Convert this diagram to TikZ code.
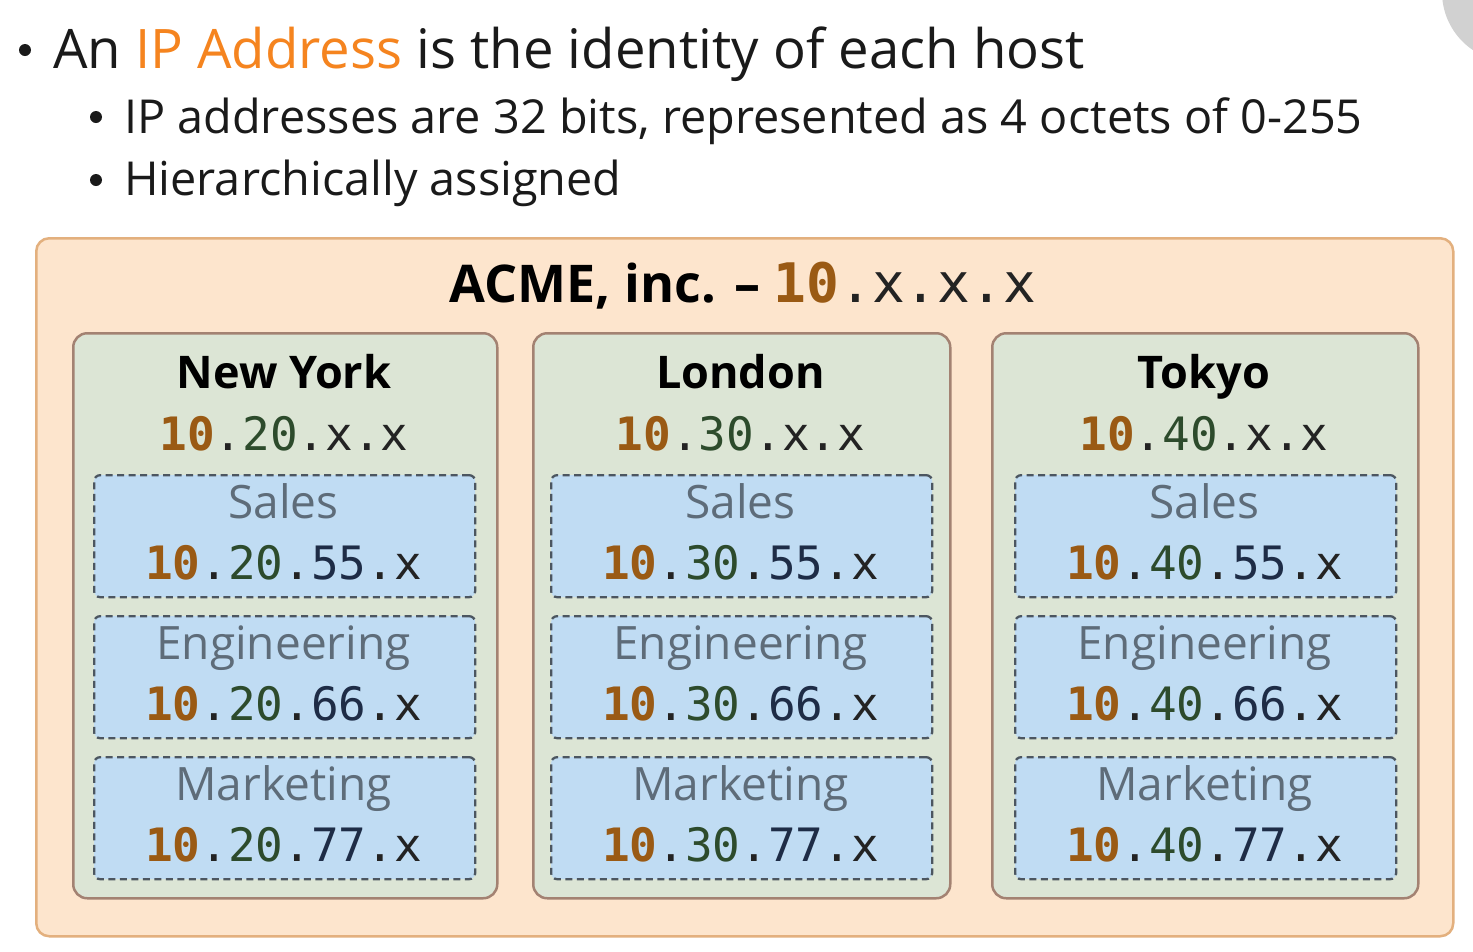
\documentclass[tikz,border=0pt]{standalone}
\usepackage{fontspec}
\usetikzlibrary{calc}
\setmainfont{Open Sans}
\newfontfamily\monof{DejaVu Sans Mono}
\definecolor{outerfill}{HTML}{FDE5CD}
\definecolor{outerline}{HTML}{E3B07E}
\definecolor{cityfill}{HTML}{DCE5D5}
\definecolor{cityline}{HTML}{A38272}
\definecolor{deptfill}{HTML}{C0DCF3}
\definecolor{deptline}{HTML}{4C5660}
\definecolor{labelgrey}{HTML}{5E6C79}
\definecolor{ipten}{HTML}{9A5A14}
\definecolor{ipsec}{HTML}{2D4B2C}
\definecolor{ipthird}{HTML}{1E2C46}
\definecolor{ipdark}{HTML}{232323}
\definecolor{accent}{HTML}{F5841F}
\definecolor{textblack}{HTML}{1A1A1A}
\newcommand\ipcity[1]{{\monof\textcolor{ipten}{\bfseries 10}\textcolor{ipdark}{.}\textcolor{ipsec}{#1}\textcolor{ipdark}{.x.x}}}
\newcommand\ipdept[2]{{\monof\textcolor{ipten}{\bfseries 10}\textcolor{ipdark}{.}\textcolor{ipsec}{#1}\textcolor{ipdark}{.}\textcolor{ipthird}{#2}\textcolor{ipdark}{.x}}}
\begin{document}
\begin{tikzpicture}[x=1pt,y=-1pt,
  outerbox/.style={draw=outerline, fill=outerfill, line width=2.5pt, rounded corners=13pt, anchor=north west, inner sep=0pt},
  citybox/.style={draw=cityline, fill=cityfill, line width=2.5pt, rounded corners=14pt, anchor=north west, inner sep=0pt},
  deptbox/.style={draw=deptline, fill=deptfill, line width=2.3pt, dash pattern=on 7pt off 4.5pt, rounded corners=6pt, anchor=north west, inner sep=0pt},
  bullettext/.style={anchor=base west, inner sep=0pt, text=textblack},
  bulletdot/.style={circle, fill=textblack, inner sep=0pt, minimum size=12pt},
  citytitle/.style={anchor=base, inner sep=0pt, font=\fontsize{45}{50}\selectfont\bfseries, text=black},
  cityip/.style={anchor=base, inner sep=0pt, font=\fontsize{46}{50}\selectfont},
  deptlabel/.style={anchor=base, inner sep=0pt, font=\fontsize{46}{50}\selectfont, text=labelgrey},
  deptip/.style={anchor=base, inner sep=0pt, font=\fontsize{46}{50}\selectfont}
]
\useasboundingbox (0,0) rectangle (1473,951);
\fill[white] (0,0) rectangle (1473,951);
% screen UI button, top right
\fill[black!18] (1512,-8) circle (70pt);

% bullets
\node[bulletdot] (b1) at (25,50) {};
\node[bullettext, font=\fontsize{54.5}{58}\selectfont] (l1) at (53,68) {An \textcolor{accent}{IP Address} is the identity of each host};
\node[bulletdot] (b2) at (96,117) {};
\node[bullettext, font=\fontsize{46.8}{50}\selectfont] (l2) at (124,133) {IP addresses are 32 bits, represented as 4 octets of 0-255};
\node[bulletdot] (b3) at (96,180) {};
\node[bullettext, font=\fontsize{46.8}{50}\selectfont] (l3) at (124,195) {Hierarchically assigned};

% outer box
\node[outerbox, minimum width=1417pt, minimum height=698pt] (acme) at (35,237) {};
\node[anchor=base, inner sep=0pt, font=\fontsize{52}{56}\selectfont\bfseries] (acmetitle) at (743,302)
  {ACME, inc. -- {\fontsize{54.5}{58}\selectfont\monof\mdseries\textcolor{ipten}{\bfseries 10}\textcolor{ipdark}{.x.x.x}}};

% cities
\foreach \nm/\city/\oct/\x/\w/\dx in {ny/New York/20/72/424/93, ldn/London/30/532/417/550, tky/Tokyo/40/991/426/1014}{
  \node[citybox, minimum width=\w pt, minimum height=565pt] (\nm) at (\x,332) {};
  \node[citytitle] (\nm-name) at ($(\x,0)+(\w/2,388)$) {\city};
  \node[cityip] (\nm-ip) at ($(\x,0)+(\w/2,450)$) {\ipcity{\oct}};
  \foreach \dn/\dlabel/\thr/\y in {s/Sales/55/474, e/Engineering/66/615, m/Marketing/77/756}{
    \node[deptbox, minimum width=381pt, minimum height=122pt] (\nm-\dn) at (\dx,\y) {};
    \node[deptlabel] (\nm-\dn-lbl) at ($(\dx,\y)+(190.5,44)$) {\dlabel};
    \node[deptip] (\nm-\dn-ip) at ($(\dx,\y)+(190.5,105)$) {\ipdept{\oct}{\thr}};
  }
}
\end{tikzpicture}
\end{document}
